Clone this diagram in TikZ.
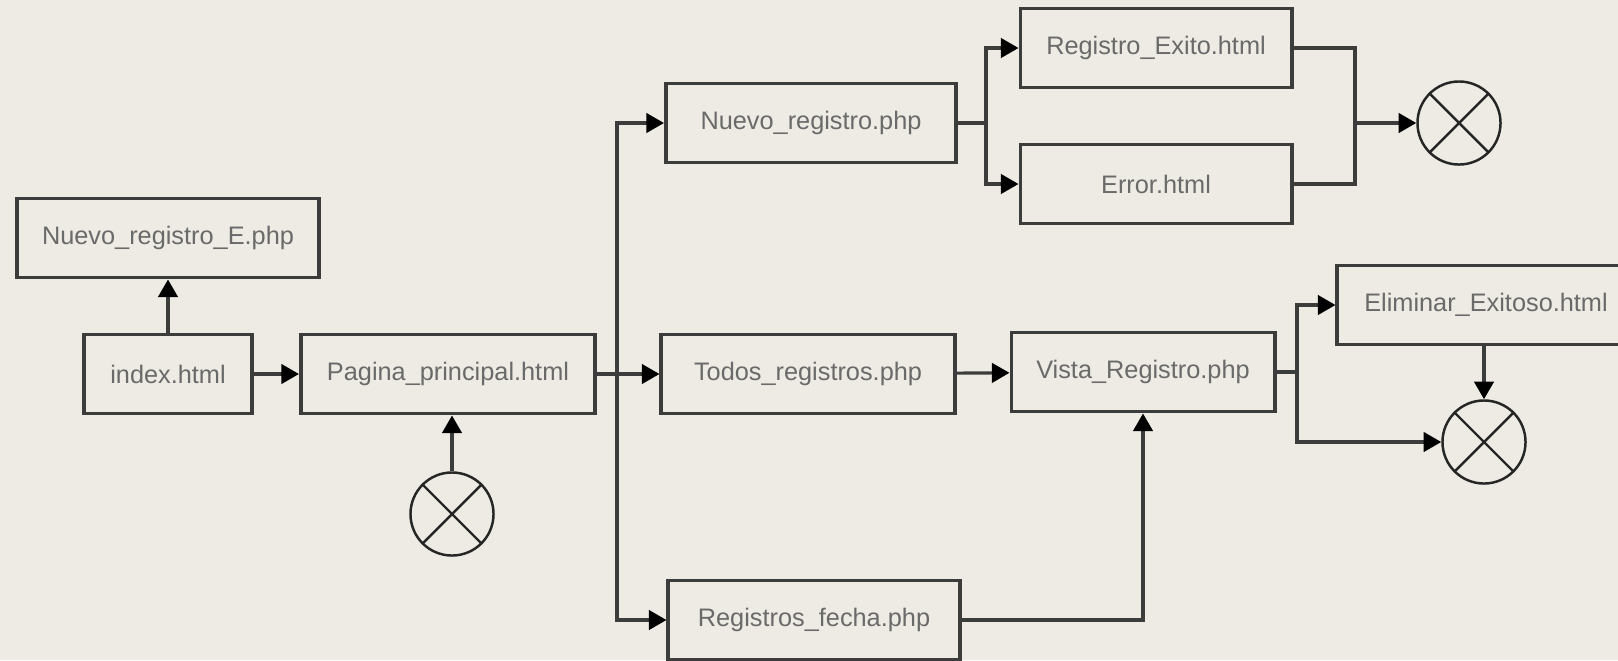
\documentclass[tikz,border=0pt]{standalone}
\usepackage{fontspec}
\setmainfont{Liberation Sans}
\usepackage{xcolor}
\usepackage{tikz}
\usetikzlibrary{arrows.meta}
\definecolor{paper}{HTML}{EDEBE3}
\definecolor{boxline}{HTML}{3C3C3C}
\definecolor{boxtext}{HTML}{6A6A6A}
\tikzset{
  pagebox/.style={
    rectangle,
    draw=boxline,
    line width=1.1pt,
    minimum height=0.79cm,
    minimum width=#1,
    inner sep=0pt,
    text=boxtext,
    font=\fontsize{7.2}{9}\selectfont
  },
  endnode/.style={
    circle,
    draw=black!85,
    line width=0.7pt,
    minimum size=0.83cm,
    inner sep=0pt
  },
  link/.style={
    draw=boxline,
    line width=0.9pt
  }
}

\begin{document}
\begin{tikzpicture}[x=0.01cm,y=-0.01cm]
                    \fill [paper] (0,0) rectangle (1618,660);
                    \useasboundingbox (0,0) rectangle (1618,660);
                    \begin{scope}
                        \node [pagebox=3.02cm] (NRE) at (168, 238) {Nuevo\_registro\_E.php};
                        \node [pagebox=1.68cm] (IDX) at (168, 374) {index.html};
                        \node [pagebox=2.94cm] (PAG) at (448, 374) {Pagina\_principal.html};
                        \node [pagebox=2.90cm] (NR)  at (811, 123) {Nuevo\_registro.php};
                        \node [pagebox=2.93cm] (TR)  at (808, 374) {Todos\_registros.php};
                        \node [pagebox=2.91cm] (RF)  at (814, 620) {Registros\_fecha.php};
                        \node [pagebox=2.71cm] (RE)  at (1156, 48) {Registro\_Exito.html};
                        \node [pagebox=2.71cm] (ERR) at (1156,184) {Error.html};
                        \node [pagebox=2.63cm] (VR)  at (1143,372) {Vista\_Registro.php};
                        \node [pagebox=2.97cm] (EE)  at (1486,305) {Eliminar\_Exitoso.html};
                    \end{scope}
                    \begin{scope}
                        \node [endnode] (X1) at (452, 514) {};
                        \node [endnode] (X2) at (1459,123) {};
                        \node [endnode] (X3) at (1484,442) {};
                    \end{scope}
                    % crosses inside the end circles
                    \foreach \x in {X1,X2,X3} {
                        \draw [draw=black!85, line width=0.7pt] (\x.45) -- (\x.225) (\x.135) -- (\x.315);
                    }
                    \coordinate (B1) at (617, 374);
                    \coordinate (B2) at (986, 123);
                    \coordinate (B3) at (1355,123);
                    \coordinate (B4) at (1297,372);
                    \begin{scope}[>={Triangle[length=5pt,width=5.5pt,black]}, every path/.style={link}]
                        \draw [->] (IDX) -- (NRE);
                        \draw [->] (IDX) -- (PAG);
                        \draw [->] (X1) -- (X1 |- PAG.south);

                        \draw (PAG) -- (B1);
                        \draw [->] (B1) |- (NR);
                        \draw [->] (B1) -- (TR);
                        \draw [->] (B1) |- (RF);

                        \draw (NR) -- (B2);
                        \draw [->] (B2) |- (RE);
                        \draw [->] (B2) |- (ERR);
                        \draw (RE) -| (B3) |- (ERR);
                        \draw [->] (B3) -- (X2);

                        \draw [->] (TR) -- (VR);
                        \draw [->] (RF) -| (VR);

                        \draw (VR) -- (B4);
                        \draw [->] (B4) |- (EE);
                        \draw [->] (B4) |- (X3);
                        \draw [->] (EE.south -| X3) -- (X3);
                    \end{scope}
                \end{tikzpicture}
\end{document}
